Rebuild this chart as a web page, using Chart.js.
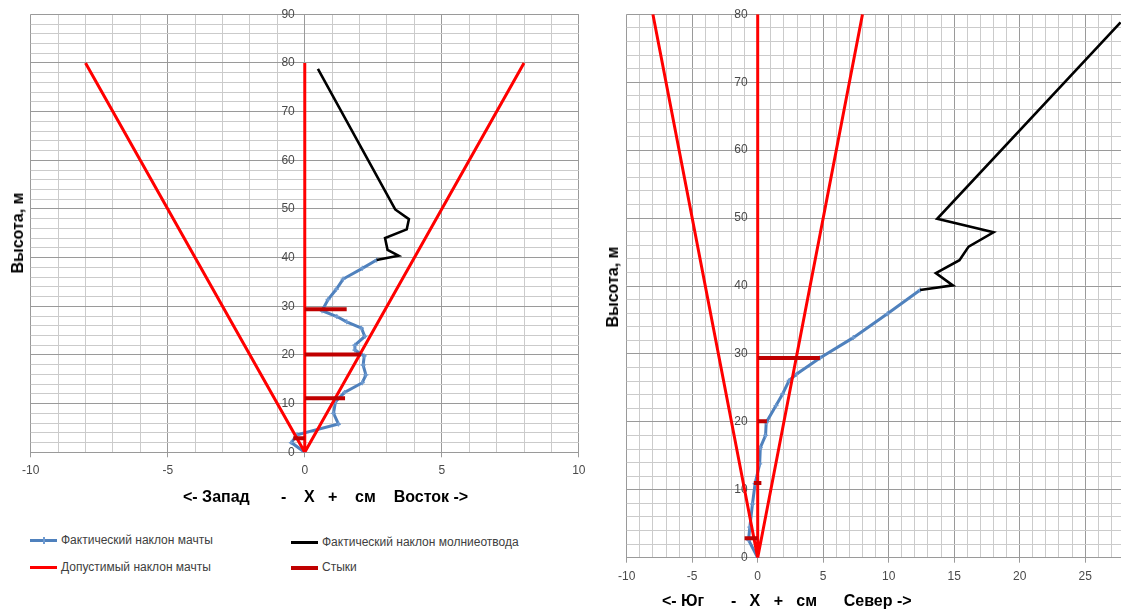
<!DOCTYPE html>
<html lang="ru">
<head>
<meta charset="utf-8">
<title>Наклон мачты</title>
<script src="https://cdn.jsdelivr.net/npm/chart.js@4.4.1/dist/chart.umd.min.js"></script>
<style>
  html, body { margin: 0; padding: 0; background: #fff; }
  body { width: 1121px; height: 612px; overflow: hidden; position: relative; font-family: "Liberation Sans", Arial, sans-serif; }
  .box { position: absolute; top: 0; }
  .xtitle { position: absolute; font: bold 16px "Liberation Sans", Arial, sans-serif; color: #000; white-space: pre; line-height: 20px; }
  .ytitle { position: absolute; font: bold 16px "Liberation Sans", Arial, sans-serif; color: #000; white-space: nowrap; line-height: 20px; transform: translate(-50%, -50%) rotate(-90deg); }
  .lg-line { position: absolute; height: 3px; width: 27px; }
  .lg-text { position: absolute; font: 12px "Liberation Sans", Arial, sans-serif; color: #404040; white-space: nowrap; line-height: 14px; }
</style>
</head>
<body>
<div class="box" style="left:0;width:592px;height:490px"><canvas id="west" width="592" height="490"></canvas></div>
<div class="box" style="left:595px;width:570px;height:600px"><canvas id="north" width="570" height="600"></canvas></div>

<div class="ytitle" style="left:18px;top:233px">Высота, м</div>
<div class="xtitle" style="left:183px;top:487px">&lt;- Запад       -    X   +    см    Восток -&gt;</div>
<div class="ytitle" style="left:613px;top:287px">Высота, м</div>
<div class="xtitle" style="left:662px;top:591px">&lt;- Юг      -   X   +   см      Север -&gt;</div>

<div class="lg-line" style="left:30px;top:539px;background:#4f81bd"></div>
<div style="position:absolute;left:43px;top:537px;width:1.5px;height:7px;background:#6f9bd1"></div>
<div class="lg-text" style="left:61px;top:533px">Фактический наклон мачты</div>
<div class="lg-line" style="left:291px;top:541px;background:#000"></div>
<div class="lg-text" style="left:322px;top:535px">Фактический наклон молниеотвода</div>
<div class="lg-line" style="left:30px;top:566px;background:#ff0000"></div>
<div class="lg-text" style="left:61px;top:560px">Допустимый наклон мачты</div>
<div class="lg-line" style="left:291px;top:566px;height:4px;background:#c00000"></div>
<div class="lg-text" style="left:322px;top:560px">Стыки</div>

<script>
// ---- West-East (X) plane ----
const eastMastHeights = [0, 2.0, 3.6, 5.8, 8.0, 10.4, 12.3, 14.3, 15.9, 17.9, 19.8, 21.0, 22.0, 23.8, 25.5, 26.8, 27.9, 29.1, 31.4, 33.5, 35.6, 37.8, 39.5];
const eastMastOffsets = [0, -0.49, -0.28, 1.23, 1.05, 1.12, 1.45, 2.1, 2.23, 2.13, 2.17, 1.83, 1.83, 2.19, 2.07, 1.53, 1.17, 0.63, 0.85, 1.15, 1.4, 2.1, 2.62];
const eastRodHeights = [39.5, 40.4, 41.6, 44.0, 45.8, 47.9, 49.9, 78.8];
const eastRodOffsets = [2.62, 3.42, 3.02, 2.93, 3.72, 3.8, 3.3, 0.48];
const eastJointHeights = [29.4, 20.1, 11.1, 2.9];
const eastJointFrom = [0, 0, 0, -0.42];
const eastJointTo = [1.53, 2.05, 1.47, 0];

// ---- South-North (Y) plane ----
const northMastHeights = [0, 2.6, 4.5, 7.9, 10.9, 13.8, 16.2, 18.0, 19.9, 22.4, 24.1, 26.1, 27.0, 29.4, 32.4, 35.9, 39.4];
const northMastOffsets = [0, -0.7, -0.6, -0.4, -0.2, 0.15, 0.2, 0.6, 0.65, 1.4, 1.9, 2.4, 2.95, 4.75, 7.3, 9.9, 12.4];
const northRodHeights = [39.4, 40.1, 41.9, 43.8, 45.8, 47.9, 49.9, 78.8];
const northRodOffsets = [12.4, 14.9, 13.6, 15.4, 16.1, 18.0, 13.7, 27.7];
const northJointHeights = [29.4, 20.1, 11.0, 2.85];
const northJointFrom = [0, 0, -0.3, -1.0];
const northJointTo = [4.75, 0.7, 0.28, 0];

// ---- Allowable tilt (same for both planes) ----
const limitHeights = [80, 0, 80];
const limitOffsets = [-8, 0, 8];
const axisLineHeights = [0, 80];
const axisLineOffsets = [0, 0];

// ---- Tick labels ----
const westXTickLabels = [-10, -5, 0, 5, 10];
const westYTickLabels = [0, 10, 20, 30, 40, 50, 60, 70, 80, 90];
const northXTickLabels = [-10, -5, 0, 5, 10, 15, 20, 25, 30];
const northYTickLabels = [0, 10, 20, 30, 40, 50, 60, 70, 80];

const MAJOR = '#9a9a9a';
const MINOR = '#cbcbcb';
const TICKFONT = { family: '"Liberation Sans", Arial, sans-serif', size: 12 };
const TICKCOLOR = '#4a4a4a';
const YLABEL_GAP = '   ';

function pts(xs, hs) { return xs.map((x, i) => ({ x: x, y: hs[i] })); }
function limitData() {
  return pts(limitOffsets, limitHeights)
    .concat([{ x: 0, y: null }])
    .concat(pts(axisLineOffsets, axisLineHeights));
}
function jointData(hs, from, to) {
  const out = [];
  hs.forEach((h, i) => {
    if (i) out.push({ x: from[i], y: null });
    out.push({ x: from[i], y: h }, { x: to[i], y: h });
  });
  return out;
}
const has = (arr, v) => arr.some(a => Math.abs(a - v) < 1e-9);

function makeChart(id, cfg) {
  const datasets = [
    { label: 'Стыки', data: jointData(cfg.jh, cfg.jf, cfg.jt), borderColor: '#c00000', backgroundColor: '#c00000',
      borderWidth: 4, pointRadius: 0, showLine: true, order: 0, borderCapStyle: 'butt' },
    { label: 'Допустимый наклон мачты', data: limitData(), borderColor: '#ff0000', backgroundColor: '#ff0000',
      borderWidth: 3, pointRadius: 0, showLine: true, order: 1 },
    { label: 'Фактический наклон молниеотвода', data: pts(cfg.rx, cfg.rh), borderColor: '#000000', backgroundColor: '#000000',
      borderWidth: 2.6, pointRadius: 0, showLine: true, order: 2 },
    { label: 'Фактический наклон мачты', data: pts(cfg.mx, cfg.mh), borderColor: '#4f81bd', backgroundColor: '#6f9bd1',
      borderWidth: 3, pointRadius: 2.5, pointStyle: 'cross', pointBorderColor: '#6f9bd1', pointBorderWidth: 1.3,
      showLine: true, order: 3 }
  ];
  return new Chart(document.getElementById(id), {
    type: 'scatter',
    data: { datasets: datasets },
    options: {
      responsive: false,
      devicePixelRatio: 1,
      animation: false,
      events: [],
      layout: { padding: cfg.padding },
      plugins: { legend: { display: false }, tooltip: { enabled: false }, title: { display: false } },
      scales: {
        x: {
          type: 'linear', position: 'bottom', min: cfg.xmin, max: cfg.xmax,
          ticks: { stepSize: 1, autoSkip: false, maxRotation: 0, padding: 6.5, color: TICKCOLOR, font: TICKFONT,
            callback: v => has(cfg.xl, v) ? String(v) : '' },
          grid: { color: c => (c.tick && has(cfg.xl, c.tick.value)) ? MAJOR : MINOR, lineWidth: 1, tickLength: 5,
            tickColor: c => (c.tick && has(cfg.xl, c.tick.value)) ? MAJOR : 'rgba(0,0,0,0)' },
          border: { color: MAJOR, width: 1 }
        },
        y: {
          type: 'linear', position: { x: 0 }, min: 0, max: cfg.ymax,
          ticks: { stepSize: 2, autoSkip: false, padding: 0, color: TICKCOLOR, font: TICKFONT,
            callback: v => has(cfg.yl, v) ? String(v) + YLABEL_GAP : '' },
          grid: { color: c => (c.tick && has(cfg.yl, c.tick.value)) ? MAJOR : MINOR, lineWidth: 1, tickLength: 4,
            tickColor: c => (c.tick && has(cfg.yl, c.tick.value)) ? MAJOR : 'rgba(0,0,0,0)' },
          border: { color: MAJOR, width: 1 }
        }
      }
    }
  });
}

makeChart('west', {
  mh: eastMastHeights, mx: eastMastOffsets, rh: eastRodHeights, rx: eastRodOffsets,
  jh: eastJointHeights, jf: eastJointFrom, jt: eastJointTo,
  xmin: -10, xmax: 10, ymax: 90, xl: westXTickLabels, yl: westYTickLabels,
  padding: { left: 30.7, right: 10.3, top: 14.3, bottom: 5.3 }
});
makeChart('north', {
  mh: northMastHeights, mx: northMastOffsets, rh: northRodHeights, rx: northRodOffsets,
  jh: northJointHeights, jf: northJointFrom, jt: northJointTo,
  xmin: -10, xmax: 30, ymax: 80, xl: northXTickLabels, yl: northYTickLabels,
  padding: { left: 31.7, right: 14.3, top: 14.3, bottom: 9.9 }
});
</script>
</body>
</html>
